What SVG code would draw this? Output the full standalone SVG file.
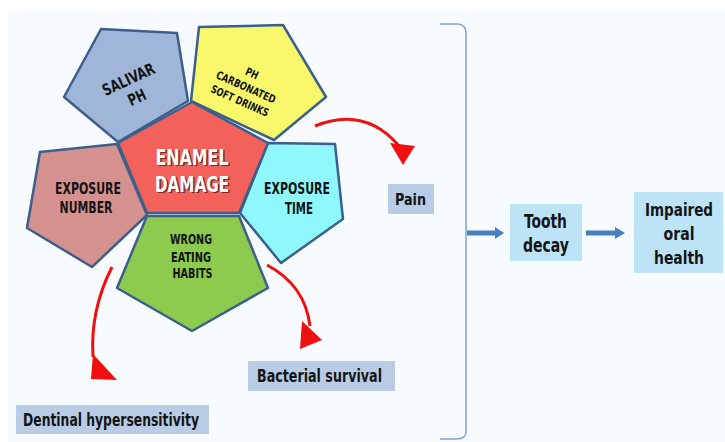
<svg xmlns="http://www.w3.org/2000/svg" width="725" height="442" viewBox="0 0 725 442">
<defs>
<style>
.t{font-family:"DejaVu Sans","Liberation Sans",sans-serif;font-stretch:condensed;font-weight:bold;fill:#141414;text-anchor:middle}
.p{stroke:#3c5f8c;stroke-width:2.5;stroke-linejoin:round}
.lbl{fill:#b8cde5}
.lbl2{fill:#bde3f7}
.red{fill:none;stroke:#f01010;stroke-width:3}
.redh{fill:#f01010}
.blue{stroke:#4a7fbf;stroke-width:5}
.blueh{fill:#4a7fbf}
</style>
</defs>
<rect x="0" y="0" width="725" height="442" fill="#ffffff"/>
<rect x="8" y="11" width="717" height="431" fill="#f7fbfe"/>

<g id="salivar-ph">
<polygon class="p" points="101,29 177,33 188,101 118,142 64,97" fill="#9fb6d9"/>
<g transform="rotate(-25 132.5 88)">
<text class="t" x="132.5" y="84" font-size="16" textLength="56" lengthAdjust="spacingAndGlyphs">SALIVAR</text>
<text class="t" x="132.5" y="104" font-size="16" textLength="18" lengthAdjust="spacingAndGlyphs">PH</text>
</g>
</g>

<g id="ph-carbonated">
<polygon class="p" points="199,27 283,25 326,97 274,140 191,101" fill="#f8f86a"/>
<g transform="rotate(24 246 87)">
<text class="t" x="246" y="76" font-size="11" textLength="13" lengthAdjust="spacingAndGlyphs">PH</text>
<text class="t" x="246" y="91" font-size="11" textLength="64" lengthAdjust="spacingAndGlyphs">CARBONATED</text>
<text class="t" x="246" y="106" font-size="11" textLength="62" lengthAdjust="spacingAndGlyphs">SOFT DRINKS</text>
</g>
</g>

<g id="exposure-time">
<polygon class="p" points="268,143 335,144 343,219 281,263 240,213" fill="#8ef8fc"/>
<text class="t" x="297" y="194" font-size="15.5" textLength="66" lengthAdjust="spacingAndGlyphs">EXPOSURE</text>
<text class="t" x="299" y="214" font-size="15.5" textLength="28" lengthAdjust="spacingAndGlyphs">TIME</text>
</g>

<g id="exposure-number">
<polygon class="p" points="40,152 117,144 147,215 92,267 27,228" fill="#d4918d"/>
<text class="t" x="88" y="194" font-size="15.5" textLength="66" lengthAdjust="spacingAndGlyphs">EXPOSURE</text>
<text class="t" x="86" y="213" font-size="15.5" textLength="53" lengthAdjust="spacingAndGlyphs">NUMBER</text>
</g>

<g id="wrong-eating-habits">
<polygon class="p" points="147,216 239,216 268,288 192,331 117,288" fill="#8ccb4e"/>
<text class="t" x="191" y="244" font-size="14" textLength="42" lengthAdjust="spacingAndGlyphs">WRONG</text>
<text class="t" x="191" y="262" font-size="14" textLength="40" lengthAdjust="spacingAndGlyphs">EATING</text>
<text class="t" x="192.5" y="278" font-size="14" textLength="40" lengthAdjust="spacingAndGlyphs">HABITS</text>
</g>

<g id="enamel-damage">
<polygon class="p" points="192,102 268,143 239,213 147,213 118,143" fill="#f2625a"/>
<text class="t" x="193.5" y="166" font-size="21" textLength="73" lengthAdjust="spacingAndGlyphs" style="fill:#7a2a26">ENAMEL</text>
<text class="t" x="193.5" y="193" font-size="21" textLength="74" lengthAdjust="spacingAndGlyphs" style="fill:#7a2a26">DAMAGE</text>
<text class="t" x="192" y="164.5" font-size="21" textLength="73" lengthAdjust="spacingAndGlyphs" style="fill:#ffffff">ENAMEL</text>
<text class="t" x="192" y="191.5" font-size="21" textLength="74" lengthAdjust="spacingAndGlyphs" style="fill:#ffffff">DAMAGE</text>
</g>

<g id="pain">
<rect class="lbl" x="388" y="184" width="46" height="30"/>
<text class="t" x="410.5" y="205" font-size="16" textLength="31" lengthAdjust="spacingAndGlyphs">Pain</text>
</g>

<g id="bacterial-survival">
<rect class="lbl" x="248" y="361" width="147" height="30"/>
<text class="t" x="319.5" y="382" font-size="18" textLength="125" lengthAdjust="spacingAndGlyphs">Bacterial survival</text>
</g>

<g id="dentinal-hypersensitivity">
<rect class="lbl" x="16" y="405" width="193" height="29"/>
<text class="t" x="111" y="426" font-size="17.5" textLength="176" lengthAdjust="spacingAndGlyphs">Dentinal hypersensitivity</text>
</g>

<g id="tooth-decay">
<rect class="lbl2" x="510" y="204" width="72" height="57"/>
<text class="t" x="545.5" y="228" font-size="19" textLength="43" lengthAdjust="spacingAndGlyphs">Tooth</text>
<text class="t" x="546" y="252" font-size="19" textLength="46" lengthAdjust="spacingAndGlyphs">decay</text>
</g>

<g id="impaired-oral-health">
<rect class="lbl2" x="634" y="192" width="89" height="81"/>
<text class="t" x="679" y="216" font-size="18" textLength="68" lengthAdjust="spacingAndGlyphs">Impaired</text>
<text class="t" x="679" y="240" font-size="18" textLength="31" lengthAdjust="spacingAndGlyphs">oral</text>
<text class="t" x="679" y="264" font-size="18" textLength="50" lengthAdjust="spacingAndGlyphs">health</text>
</g>

<g id="connectors">
<path d="M440,24 L458,24 Q466,25 466,33 L466,432 Q466,439 456,439 L440,439" fill="none" stroke="#7ba6d8" stroke-width="1.5"/>
<path class="red" d="M315,126 Q365,106 399,146"/>
<polygon class="redh" points="390,143 415,146 403,165"/>
<path class="red" d="M112,267 Q90,310 93,357"/>
<polygon class="redh" points="93,354 91,379 117,380"/>
<path class="red" d="M267,265 Q305,285 310,326"/>
<polygon class="redh" points="302,321 322,340 300,349"/>
<line class="blue" x1="467" y1="233" x2="497" y2="233"/>
<polygon class="blueh" points="495,227 504,233 495,239"/>
<line class="blue" x1="586" y1="233" x2="617" y2="233"/>
<polygon class="blueh" points="615,227 625,233 615,239"/>
</g>
</svg>
